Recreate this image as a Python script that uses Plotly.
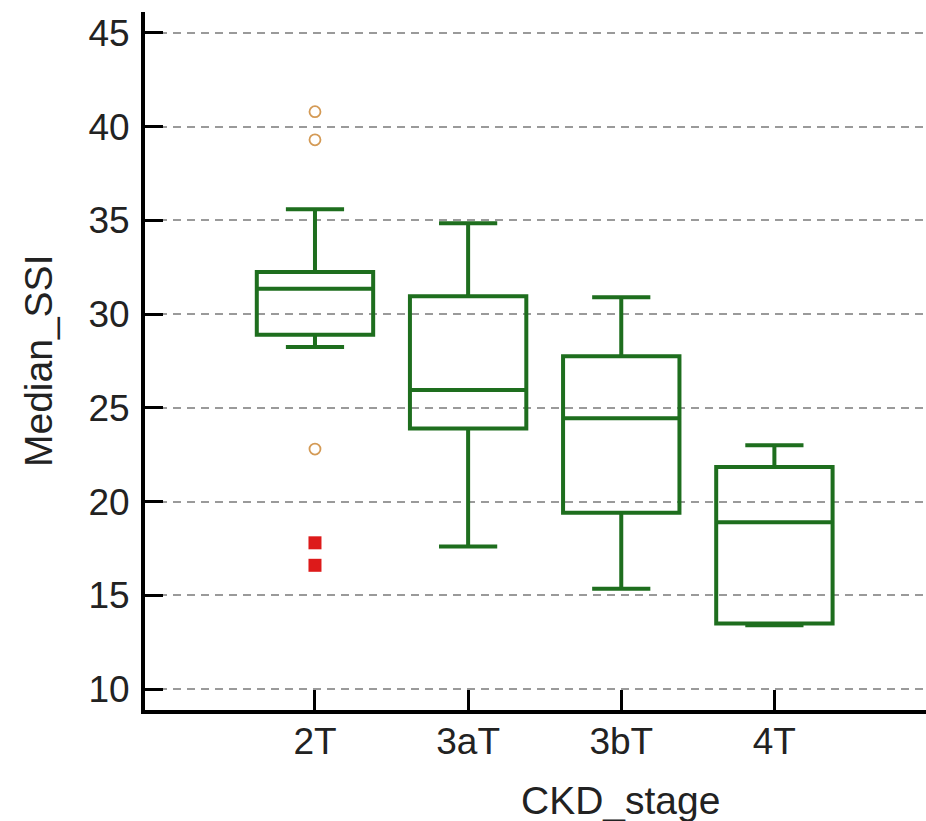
import plotly.graph_objects as go

categories = ["2T", "3aT", "3bT", "4T"]
q1_vals = [28.9, 23.9, 19.4, 13.5]
median_vals = [31.35, 25.95, 24.45, 18.9]
q3_vals = [32.25, 30.95, 27.75, 21.85]
lower_whisker = [28.25, 17.6, 15.35, 13.4]
upper_whisker = [35.6, 34.85, 30.9, 23.0]

outlier_cat = ["2T", "2T", "2T"]
outlier_vals = [40.8, 39.3, 22.8]
far_outlier_cat = ["2T", "2T"]
far_outlier_vals = [17.8, 16.6]

y_ticks = [10, 15, 20, 25, 30, 35, 40, 45]

GREEN = "#1e6e1e"
FONT = "Liberation Sans, Arial, sans-serif"

fig = go.Figure()
fig.add_trace(go.Box(
    x=categories, q1=q1_vals, median=median_vals, q3=q3_vals,
    lowerfence=lower_whisker, upperfence=upper_whisker,
    boxpoints=False, width=0.76, whiskerwidth=0.5,
    line=dict(color=GREEN, width=4), fillcolor="rgba(255,255,255,0)",
    showlegend=False, hoverinfo="skip",
))
fig.add_trace(go.Scatter(
    x=outlier_cat, y=outlier_vals, mode="markers",
    marker=dict(symbol="circle-open", size=11, color="#d49a55", line=dict(width=1.8, color="#d49a55")),
    showlegend=False, hoverinfo="skip",
))
fig.add_trace(go.Scatter(
    x=far_outlier_cat, y=far_outlier_vals, mode="markers",
    marker=dict(symbol="square", size=13, color="#dd1a1a"),
    showlegend=False, hoverinfo="skip",
))

fig.update_layout(
    width=926, height=821,
    margin=dict(l=145, r=0, t=12, b=111),
    paper_bgcolor="white", plot_bgcolor="white",
    font=dict(family=FONT, size=37, color="#222"),
    xaxis=dict(
        type="category", categoryorder="array", categoryarray=categories,
        range=[-1.11, 3.99], showgrid=False, zeroline=False,
        showline=True, linecolor="black", linewidth=4,
        ticks="inside", ticklen=20, tickwidth=3, tickcolor="black",
        tickfont=dict(size=37, family=FONT, color="#222"),
        ticklabelstandoff=-4,
    ),
    yaxis=dict(
        range=[8.88, 46.12], tickvals=y_ticks, zeroline=False,
        showline=True, linecolor="black", linewidth=4,
        ticks="inside", ticklen=18, tickwidth=3, tickcolor="black",
        showgrid=True, gridcolor="#9a9a9a", gridwidth=2, griddash="8px,6px",
        tickfont=dict(size=37, family=FONT, color="#222"),
        ticklabelstandoff=4,
    ),
    annotations=[
        dict(text="CKD_stage", xref="paper", yref="paper",
             x=(620 - 145) / 781, y=0, yshift=-90, yanchor="middle",
             showarrow=False, font=dict(size=39, family=FONT, color="#222")),
        dict(text="Median_SSI", xref="paper", yref="paper",
             x=0, xshift=-107, y=0.5, textangle=-90, xanchor="center",
             showarrow=False, font=dict(size=39, family=FONT, color="#222")),
    ],
)

fig.write_html("out.html")
